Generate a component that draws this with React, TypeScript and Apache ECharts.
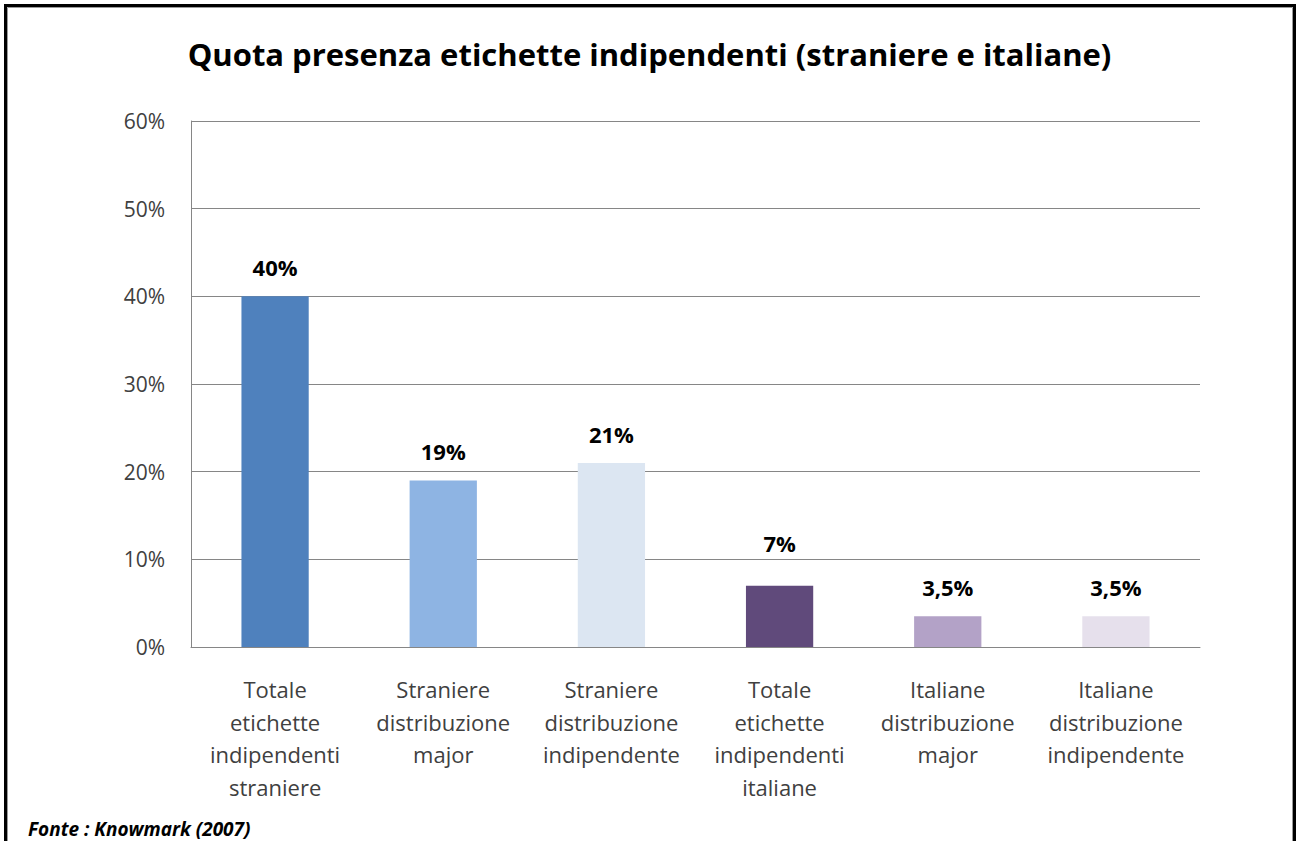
import React, { useEffect, useRef } from "react";
import * as echarts from "echarts";

const categories = [
  "Totale\netichette\nindipendenti\nstraniere",
  "Straniere\ndistribuzione\nmajor",
  "Straniere\ndistribuzione\nindipendente",
  "Totale\netichette\nindipendenti\nitaliane",
  "Italiane\ndistribuzione\nmajor",
  "Italiane\ndistribuzione\nindipendente",
];
const values = [40, 19, 21, 7, 3.5, 3.5];
const barColors = ["#4F81BD", "#8EB4E3", "#DCE6F2", "#604A7B", "#B3A2C7", "#E6E0EC"];
const titleText = "Quota presenza etichette indipendenti (straniere e italiane)";
const sourceText = "Fonte : Knowmark (2007)";

const FONT = "Open Sans";

export default function App() {
  const ref = useRef<HTMLDivElement>(null);
  useEffect(() => {
    if (!ref.current) return;
    const chart = echarts.init(ref.current, null, { renderer: "svg" });
    const data = values.map((v, i) => {
      const item: any = { value: v, itemStyle: { color: barColors[i] } };
      if (i === 3) item.label = { distance: 32 };
      return item;
    });
    chart.setOption({
      animation: false,
      backgroundColor: "#ffffff",
      title: {
        text: titleText,
        left: "center",
        top: 33,
        textStyle: { fontFamily: FONT, fontSize: 31, fontWeight: "bold", color: "#000000" },
      },
      grid: { left: 191, right: 99, top: 121, bottom: 194, containLabel: false },
      xAxis: {
        type: "category",
        data: categories,
        axisTick: { show: false },
        axisLine: { lineStyle: { color: "#868686", width: 1 } },
        axisLabel: {
          interval: 0,
          margin: 26,
          fontFamily: FONT,
          fontSize: 22,
          lineHeight: 32.5,
          color: "#404040",
        },
      },
      yAxis: {
        type: "value",
        min: 0,
        max: 60,
        interval: 10,
        axisLine: { show: true, lineStyle: { color: "#868686", width: 1 } },
        axisTick: { show: false },
        splitLine: { lineStyle: { color: "#868686", width: 1 } },
        axisLabel: {
          formatter: "{value}%",
          margin: 26,
          fontFamily: FONT,
          fontSize: 21,
          color: "#404040",
        },
      },
      series: [
        {
          type: "bar",
          data,
          barCategoryGap: "60%",
          label: {
            show: true,
            position: "top",
            distance: 18,
            fontFamily: FONT,
            fontSize: 22,
            fontWeight: "bold",
            color: "#000000",
            formatter: (p: any) => String(p.value).replace(".", ",") + "%",
          },
        },
      ],
      graphic: [
        {
          type: "rect",
          shape: { x: 5.5, y: 5.5, width: 1289, height: 900 },
          style: { fill: "none", stroke: "#000000", lineWidth: 3 },
          silent: true,
        },
        {
          type: "rect",
          shape: { x: 7.5, y: 7.5, width: 1285, height: 900 },
          style: { fill: "none", stroke: "#9a9a9a", lineWidth: 1 },
          silent: true,
        },
        {
          type: "text",
          left: 28,
          top: 819,
          style: {
            text: sourceText,
            fontFamily: FONT,
            fontSize: 19,
            fontWeight: "bold",
            fontStyle: "italic",
            fill: "#000000",
          },
        },
      ],
    });
    return () => chart.dispose();
  }, []);
  return (
    <div
      ref={ref}
      style={{ position: "fixed", left: 0, top: 0, width: 1299, height: 841 }}
    />
  );
}
